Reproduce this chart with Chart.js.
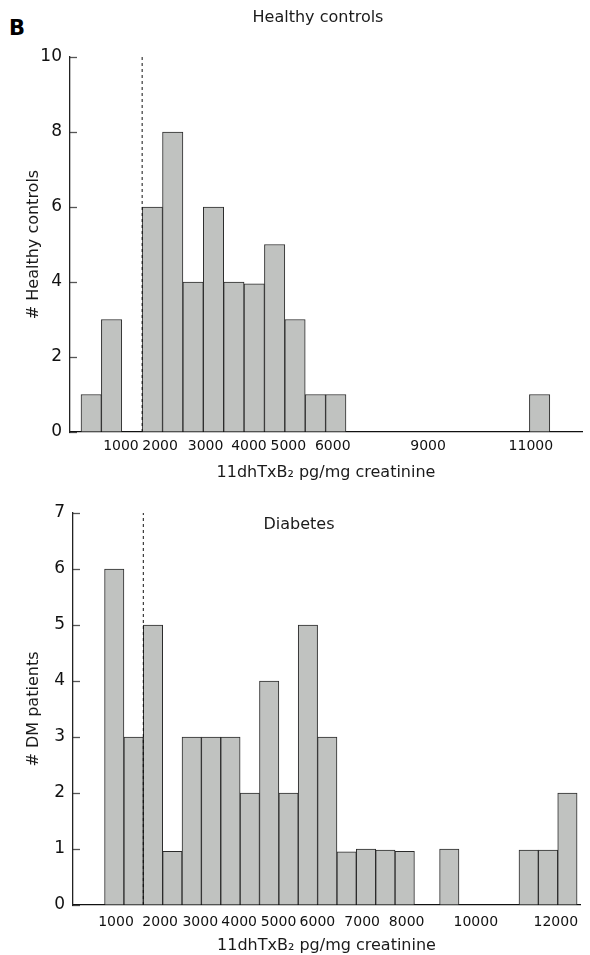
<!DOCTYPE html>
<html>
<head>
<meta charset="utf-8">
<script src="https://cdn.jsdelivr.net/npm/chart.js@4/dist/chart.umd.min.js"></script>
<style>
  body { margin: 0; background: #fff; }
  #page { position: relative; width: 590px; height: 955px; font-family: 'DejaVu Sans', sans-serif; color: #1a1a1a; }
  .lbl { position: absolute; font-size: 16px; line-height: 20px; white-space: nowrap; transform: translateX(-50%); z-index: 2; }
  #panel { position: absolute; left: 9px; top: 16px; font-size: 21px; font-weight: bold; line-height: 24px; color: #000; }
  #boxTop { position: absolute; left: 0; top: 0; }
  #boxBottom { position: absolute; left: 0; top: 482px; }
</style>
</head>
<body>
<div id="page">
  <div id="panel">B</div>
  <div class="lbl" style="left:318px; top:7px;">Healthy controls</div>
  <div class="lbl" style="left:299px; top:514px;">Diabetes</div>
  <div id="boxTop"><canvas id="graficoControles" width="590" height="482"></canvas></div>
  <div id="boxBottom"><canvas id="graficoDiabetes" width="590" height="473"></canvas></div>
</div>
<script>
// histogram bins are placed by slot number on the x axis (gaps = empty bins)
const hcBins = [0, 1, 3, 4, 5, 6, 7, 8, 9, 10, 11, 12, 22];
const hcCounts = [1, 3, 6, 8, 4, 6, 4, 3.95, 5, 3, 1, 1, 1];
const hcTickPos = [1.46, 3.38, 5.61, 7.74, 9.67, 11.85, 16.53, 21.57];
const hcTickLabels = ['1000', '2000', '3000', '4000', '5000', '6000', '9000', '11000'];
const hcCutoff = 2.5;

const dmBins = [0, 1, 2, 3, 4, 5, 6, 7, 8, 9, 10, 11, 12, 13, 14, 15, 17.3, 21.4, 22.4, 23.4];
const dmCounts = [6, 3, 5, 0.96, 3, 3, 3, 2, 4, 2, 5, 3, 0.95, 1, 0.98, 0.96, 1, 0.98, 0.98, 2];
const dmTickPos = [0.09, 2.37, 4.44, 6.45, 8.48, 10.49, 12.8, 15.1, 18.67, 22.8];
const dmTickLabels = ['1000', '2000', '3000', '4000', '5000', '6000', '7000', '8000', '10000', '12000'];
const dmCutoff = 1.5;

const xTitle = '11dhTxB\u2082 pg/mg creatinine';

Chart.defaults.font.family = "'DejaVu Sans', sans-serif";
Chart.defaults.color = '#1a1a1a';

function criarHistograma(id, cfg) {
  new Chart(document.getElementById(id), {
    type: 'bar',
    data: {
      datasets: [{
        type: 'line',
        order: 0,
        data: [{ x: cfg.cutoff, y: 0 }, { x: cfg.cutoff, y: cfg.yMax }],
        borderColor: '#111',
        borderWidth: 1,
        borderDash: [3, 3],
        pointRadius: 0
      }, {
        order: 1,
        data: cfg.bins.map((b, i) => ({ x: b, y: cfg.counts[i] })),
        backgroundColor: '#c0c2c0',
        borderColor: '#2b2b2b',
        borderWidth: 1,
        categoryPercentage: 1,
        barPercentage: 1
      }]
    },
    options: {
      responsive: false,
      animation: false,
      layout: { padding: cfg.padding },
      plugins: {
        legend: { display: false },
        tooltip: { enabled: false }
      },
      scales: {
        x: {
          type: 'linear',
          offset: false,
          min: cfg.xMin,
          max: cfg.xMax,
          afterFit: s => { s.height = cfg.xHeight; },
          afterBuildTicks: s => { s.ticks = cfg.tickPos.map(v => ({ value: v })); },
          ticks: {
            autoSkip: false,
            maxRotation: 0,
            padding: cfg.xPad,
            font: { size: 14 },
            color: '#111',
            callback: (v, i) => cfg.tickLabels[i]
          },
          grid: { display: false, drawTicks: false, offset: false },
          border: { color: '#111', width: 1.3 },
          title: { display: true, text: xTitle, font: { size: 16 }, padding: { top: 0, bottom: 0 }, color: '#1a1a1a' }
        },
        y: {
          min: 0,
          max: cfg.yMax,
          afterFit: s => { s.width = cfg.yWidth; },
          ticks: { stepSize: cfg.yStep, padding: 15, font: { size: 17 }, color: '#111' },
          grid: { drawOnChartArea: false, drawTicks: true, tickLength: -7, color: '#555', tickWidth: 1.3 },
          border: { color: '#222', width: 1.3 },
          title: { display: true, text: cfg.yTitle, font: { size: 16 }, padding: { top: 24, bottom: 0 }, color: '#1a1a1a' }
        }
      }
    }
  });
}

window.onload = function () {
  criarHistograma('graficoControles', {
    bins: hcBins, counts: hcCounts, tickPos: hcTickPos, tickLabels: hcTickLabels, cutoff: hcCutoff,
    yMax: 10, yStep: 2, yTitle: '# Healthy controls',
    xMin: -1.04, xMax: 24.08, yWidth: 70, xHeight: 50, xPad: 6,
    padding: { top: 57, right: 8, bottom: 0, left: 0 }
  });
  criarHistograma('graficoDiabetes', {
    bins: dmBins, counts: dmCounts, tickPos: dmTickPos, tickLabels: dmTickLabels, cutoff: dmCutoff,
    yMax: 7, yStep: 1, yTitle: '# DM patients',
    xMin: -2.13, xMax: 24.05, yWidth: 73, xHeight: 50, xPad: 9,
    padding: { top: 31, right: 10, bottom: 0, left: 0 }
  });
};
</script>
</body>
</html>
